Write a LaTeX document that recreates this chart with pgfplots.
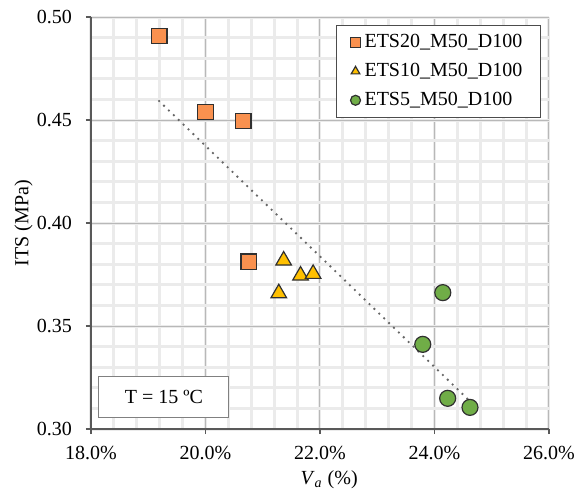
\documentclass[border=0pt]{standalone}
\usepackage{fontspec}
\setmainfont{Liberation Serif}
\usepackage{pgfplots}
\pgfplotsset{compat=1.18}

\definecolor{sqfill}{HTML}{F9914F}
\definecolor{trifill}{HTML}{FFC000}
\definecolor{circfill}{HTML}{70AD47}
\definecolor{edge}{HTML}{303030}

\begin{document}
\begin{tikzpicture}
\begin{axis}[
  scale only axis,
  width=229pt, height=206pt,
  xmin=18, xmax=26, ymin=0.30, ymax=0.50,
  xtick={18,20,...,26},
  ytick={0.30,0.35,...,0.50},
  minor xtick={18,18.4,...,26},
  minor ytick={0.30,0.31,...,0.50},
  grid=both,
  minor grid style={color=black!8, line width=1.5pt},
  major grid style={color=black!28, line width=0.5pt},
  axis x line*=bottom, axis y line*=left,
  axis line style={color=black!65, line width=0.6pt, -},
  tick align=outside,
  major tick length=2.5pt, minor tick length=0pt,
  tick style={color=black!65, line width=0.6pt},
  /pgf/number format/assume math mode=true,
  xticklabel={\pgfmathprintnumber[fixed,fixed zerofill,precision=1]{\tick}\%},
  yticklabel={\pgfmathprintnumber[fixed,fixed zerofill,precision=2]{\tick}},
  xticklabel style={yshift=-2.5pt},
  yticklabel style={xshift=-3.5pt},
  xlabel={\textit{V}\textsubscript{\textit{a}} (\%)},
  ylabel={ITS (MPa)},
  every axis x label/.style={at={(axis description cs:0.52,-0.124)}, anchor=center},
  every axis y label/.style={at={(axis description cs:-0.147,0.5)}, rotate=90, anchor=center},
  legend style={at={(0.535,0.981)}, anchor=north west, draw=black!70,
    line width=0.5pt, fill=white, inner xsep=7pt, inner ysep=2.5pt,
    row sep=2.3pt, font=\fontsize{10}{12}\selectfont},
  legend cell align=left,
  legend image code/.code={\draw[#1, mark size=2.5pt] plot coordinates {(0.1cm,0cm)};},
]
\coordinate (sw) at (rel axis cs:0,0);
\coordinate (ne) at (rel axis cs:1,1);

% linear trend of all specimens
\addplot[forget plot, color=black!60, line width=1.3pt, line cap=round,
  dash pattern=on 0pt off 3.4pt] coordinates {(19.19,0.4592) (24.62,0.3135)};

\addplot[only marks, mark=square*, mark size=3.9pt,
  mark options={fill=sqfill, draw=edge, line width=0.6pt}]
  coordinates {(19.19,0.4908) (20.00,0.4539) (20.66,0.4495) (20.755,0.3812)};
\addlegendentry{ETS20\_M50\_D100}

\addplot[only marks, mark=triangle*, mark size=4.5pt,
  mark options={fill=trifill, draw=edge, line width=0.6pt}]
  coordinates {(21.365,0.3818) (21.66,0.3745) (21.88,0.3753) (21.28,0.3659)};
\addlegendentry{ETS10\_M50\_D100}

\addplot[only marks, mark=*, mark size=4pt,
  mark options={fill=circfill, draw=edge, line width=0.6pt}]
  coordinates {(24.145,0.3662) (23.795,0.3411) (24.23,0.3149) (24.62,0.3105)};
\addlegendentry{ETS5\_M50\_D100}

\node[draw=black!50, line width=0.5pt, fill=white, minimum width=65pt,
  minimum height=20.5pt, inner sep=0pt] at (rel axis cs:0.159,0.0777) {T = 15 ºC};
\end{axis}
\pgfresetboundingbox
\path[use as bounding box] ([shift={(-45.5pt,-33pt)}]sw) rectangle ([shift={(13pt,8.5pt)}]ne);
\end{tikzpicture}
\end{document}
